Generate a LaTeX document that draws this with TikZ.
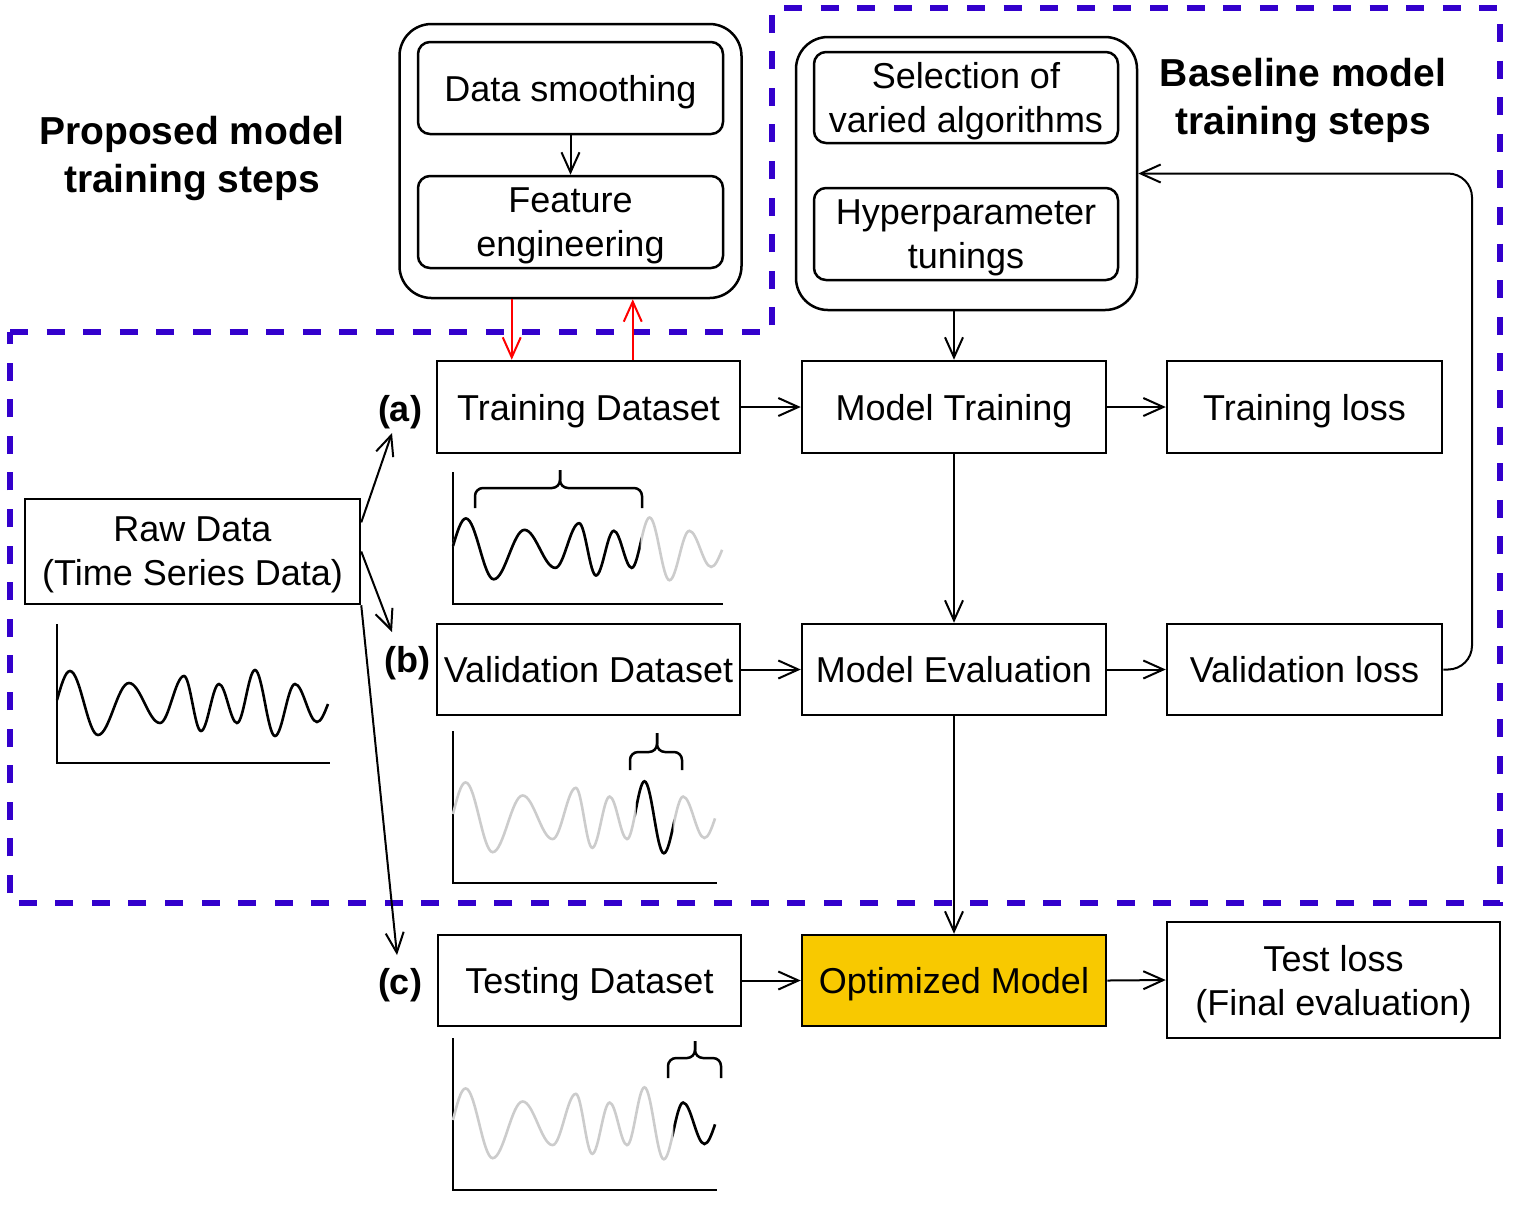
\documentclass[tikz,border=0pt]{standalone}
\usepackage{fontspec}
\setmainfont{Liberation Sans}
\usetikzlibrary{arrows.meta,calc}
\definecolor{dashblue}{RGB}{51,0,204}
\definecolor{goldfill}{RGB}{248,201,0}
\definecolor{wavegray}{RGB}{204,204,204}
\newcommand{\wavepath}{(0,0) .. controls (4.24,-14.86) and (8.29,-29) .. (13,-29)
 .. controls (23.2,-29) and (30.8,35) .. (41,35)
 .. controls (52.29,35) and (60.71,-17) .. (72,-17)
 .. controls (83.29,-17) and (91.71,23) .. (103,23)
 .. controls (111.74,23) and (118.26,-24) .. (127,-24)
 .. controls (133.19,-24) and (137.81,31) .. (144,31)
 .. controls (150.56,31) and (155.44,-16) .. (162,-16)
 .. controls (168.56,-16) and (173.44,23) .. (180,23)
 .. controls (186.56,23) and (191.44,-30) .. (198,-30)
 .. controls (205.28,-30) and (210.72,36) .. (218,36)
 .. controls (225.28,36) and (230.72,-16) .. (238,-16)
 .. controls (246.01,-16) and (251.99,22) .. (260,22)
 .. controls (263.98,22) and (267.41,13.22) .. (271,4)}
\tikzset{
  box/.style={draw, line width=1.25pt, inner sep=0pt, align=center, text depth=0pt, font=\fontsize{18}{22}\selectfont},
  rbox/.style={box, rounded corners=6pt},
  outerbox/.style={draw, line width=1.25pt, rounded corners=16pt, inner sep=0pt},
  arr/.style={line width=1pt, -{Straight Barb[length=10pt,width=9pt]}},
  titletext/.style={align=center, inner sep=0pt, font=\fontsize{19.5}{24}\selectfont\bfseries},
  labtext/.style={inner sep=0pt, font=\fontsize{18}{22}\selectfont\bfseries},
  axis/.style={line width=1.25pt},
  wavegrey/.style={line width=1.3pt, wavegray},
  waveblack/.style={line width=1.3pt, black},
  brace/.style={line width=1.25pt, rounded corners=4pt},
}
\begin{document}
\begin{tikzpicture}[x=0.5pt, y=-0.5pt]
\useasboundingbox (0,0) rectangle (1519,1207);

% dashed region
\draw[dashblue, line width=2.8pt, dash pattern=on 9pt off 9.3pt]
  (10,332) -- (772,332) -- (772,8) -- (1500,8) -- (1500,903) -- (10,903) -- cycle;

% proposed steps
\node[rbox, minimum width=152.5pt, minimum height=46pt] (ds) at (570.5,88) {Data smoothing};
\node[rbox, minimum width=152.5pt, minimum height=46pt] (fe) at (570.5,222) {Feature\\engineering};
\node[outerbox, minimum width=171pt, minimum height=137pt] (pbox) at (570.5,161) {};
\draw[arr] (ds.south) -- (fe.north);

% baseline steps
\node[rbox, minimum width=152pt, minimum height=45.5pt] (sel) at (966,97.5) {Selection of\\varied algorithms};
\node[rbox, minimum width=152pt, minimum height=46pt] (hyp) at (966,234) {Hyperparameter\\tunings};
\node[outerbox, minimum width=170.5pt, minimum height=136.5pt] (bbox) at (966.5,173.5) {};

% titles
\node[titletext] (ptitle) at (192,158) {Proposed model\\training steps};
\node[titletext] (btitle) at (1303,100) {Baseline model\\training steps};

% main boxes
\node[box, minimum width=151.5pt, minimum height=46pt] (tr) at (588.5,407) {Training Dataset};
\node[box, minimum width=152pt, minimum height=46pt] (mt) at (954,407) {Model Training};
\node[box, minimum width=137.5pt, minimum height=46pt] (tl) at (1304.5,407) {Training loss};
\node[box, minimum width=167.5pt, minimum height=52.5pt] (raw) at (192.5,551.5) {Raw Data\\(Time Series Data)};
\node[box, minimum width=151.5pt, minimum height=45.5pt] (va) at (588.5,669.5) {Validation Dataset};
\node[box, minimum width=152pt, minimum height=45.5pt] (me) at (954,669.5) {Model Evaluation};
\node[box, minimum width=137.5pt, minimum height=45.5pt] (vl) at (1304.5,669.5) {Validation loss};
\node[box, minimum width=151.5pt, minimum height=45.5pt] (te) at (589.5,980.5) {Testing Dataset};
\node[box, fill=goldfill, minimum width=152pt, minimum height=45.5pt] (om) at (954,980.5) {Optimized Model};
\node[box, minimum width=166.5pt, minimum height=58pt] (tst) at (1333.5,980) {Test loss\\(Final evaluation)};

% labels
\node[labtext] (la) at (400,412) {(a)};
\node[labtext] (lb) at (407,663) {(b)};
\node[labtext] (lc) at (400,985) {(c)};

% connectors
\draw[arr] (tr.east) -- (mt.west);
\draw[arr] (mt.east) -- (tl.west);
\draw[arr] (mt.south) -- (me.north);
\draw[arr] (va.east) -- (me.west);
\draw[arr] (me.east) -- (vl.west);
\draw[arr] (me.south) -- (om.north);
\draw[arr] (te.east) -- (om.west);
\draw[arr] (om.east) -- (tst.west);
\draw[arr] (bbox.south -| mt.north) -- (mt.north);
\coordinate (lp) at (1472,173.5);
\draw[arr, rounded corners=12pt] (vl.east) -| (lp) -- (bbox.east);
\coordinate (trin) at ($(tr.north west)+(76,0)$);
\coordinate (trout) at ($(tr.north west)+(197,0)$);
\draw[arr, red] (pbox.south -| trin) -- (trin);
\draw[arr, red] (trout) -- (pbox.south -| trout);

\coordinate (ra) at ($(raw.north east)!0.229!(raw.south east)$);
\coordinate (ta) at (392,433);
\coordinate (tb) at (392,632);
\coordinate (tc) at (397,955);
\draw[arr] (ra) -- (ta);
\draw[arr] (raw.east) -- (tb);
\draw[arr] (raw.south east) -- (tc);

% raw chart
\draw[axis] (57,624) -- (57,763) -- (330,763);
\begin{scope}[shift={(57,700)}]
  \draw[waveblack] \wavepath;
\end{scope}

% training chart
\draw[axis] (453,472) -- (453,604) -- (723,604);
\begin{scope}[shift={(453,546)}, xscale=0.993, yscale=0.95]
  \draw[wavegrey] \wavepath;
  \begin{scope}
    \clip (-5,-80) rectangle (189,80);
    \draw[waveblack] \wavepath;
  \end{scope}
\end{scope}
\draw[brace] (475,508) -- (475,488) -- (560,488) -- (560,470);
\draw[brace] (642,508) -- (642,488) -- (560,488) -- (560,470);

% validation chart
\draw[axis] (453,731) -- (453,883) -- (717,883);
\begin{scope}[shift={(453,814)}, xscale=0.967, yscale=1.09]
  \draw[wavegrey] \wavepath;
  \begin{scope}
    \clip (189,-80) rectangle (228,80);
    \draw[waveblack] \wavepath;
  \end{scope}
\end{scope}
\draw[brace] (630,770) -- (630,752) -- (657,752) -- (657,733);
\draw[brace] (682,770) -- (682,752) -- (657,752) -- (657,733);

% testing chart
\draw[axis] (453,1038) -- (453,1190) -- (717,1190);
\begin{scope}[shift={(453,1120)}, xscale=0.967, yscale=1.09]
  \draw[wavegrey] \wavepath;
  \begin{scope}
    \clip (228,-80) rectangle (290,80);
    \draw[waveblack] \wavepath;
  \end{scope}
\end{scope}
\draw[brace] (668,1078) -- (668,1058) -- (695,1058) -- (695,1041);
\draw[brace] (721,1078) -- (721,1058) -- (695,1058) -- (695,1041);
\end{tikzpicture}
\end{document}
